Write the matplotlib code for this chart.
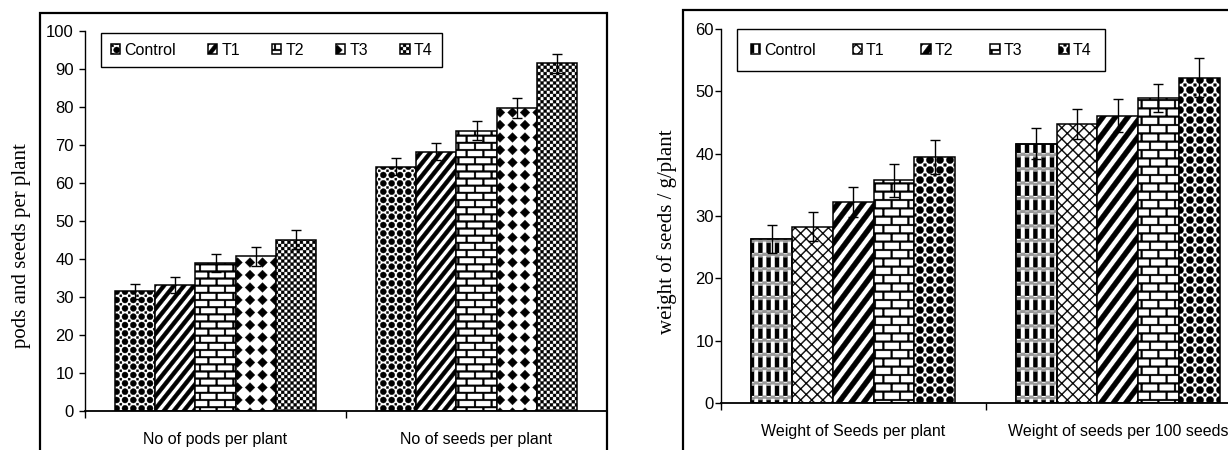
import numpy as np
import matplotlib
matplotlib.use("Agg")
import matplotlib.pyplot as plt
from matplotlib.path import Path
from matplotlib.patches import Rectangle
from matplotlib import font_manager

# ---------------- data ----------------
treatments = ["Control", "T1", "T2", "T3", "T4"]

left_categories = ["No of pods per plant", "No of seeds per plant"]
pods_means = [31.5, 33.2, 39.0, 40.7, 45.1]
pods_err = [2.0, 2.1, 2.4, 2.5, 2.5]
seeds_means = [64.3, 68.2, 73.7, 79.8, 91.5]
seeds_err = [2.2, 2.2, 2.5, 2.6, 2.5]

right_categories = ["Weight of Seeds per plant", "Weight of seeds per 100 seeds"]
wplant_means = [26.3, 28.3, 32.2, 35.7, 39.5]
wplant_err = [2.2, 2.3, 2.4, 2.6, 2.7]
w100_means = [41.6, 44.8, 46.1, 48.9, 52.2]
w100_err = [2.5, 2.4, 2.7, 2.2, 3.1]

left_ylabel = "pods and seeds per plant"
right_ylabel = "weight of seeds / g/plant"
left_yticks = list(range(0, 101, 10))
right_yticks = list(range(0, 61, 10))

# ---------------- custom hatch patterns ----------------
T = 100.0  # hatch tile in pixels (dpi = 100)
M, L, C = Path.MOVETO, Path.LINETO, Path.CLOSEPOLY


def _poly(pts):
    v = list(pts) + [pts[0]]
    c = [M] + [L] * (len(pts) - 1) + [C]
    return v, c


def _rect(x0, y0, x1, y1):
    return _poly([(x0, y0), (x1, y0), (x1, y1), (x0, y1)])


def _circle(cx, cy, r):
    uc = Path.unit_circle()
    return list(uc.vertices * r + [cx, cy]), list(uc.codes)


def _make(parts):
    verts, codes = [], []
    for v, c in parts:
        verts.extend(v)
        codes.extend(c)
    return Path(np.asarray(verts, float) / T, np.asarray(codes, Path.code_type))


def pat_balls(n, rfrac=0.36, sq=0.12):
    p = T / n
    parts = []
    for i in range(-1, n + 2):
        for j in range(-1, n + 2):
            parts.append(_circle(i * p, j * p, rfrac * p))
            cx, cy = (i + 0.5) * p, (j + 0.5) * p
            parts.append(_rect(cx - sq * p, cy - sq * p, cx + sq * p, cy + sq * p))
    return _make(parts)


def pat_stripes(n, shift, wfrac=0.5):
    p = T / n
    w = wfrac * p
    D = shift * T
    parts = []
    for k in range(-2 * n - 2, 2 * n + 3):
        x = k * p
        parts.append(_poly([(x, 0), (x + w, 0), (x + w + D, T), (x + D, T)]))
    return _make(parts)


def pat_bricks(rows, cols, t):
    h = T / rows
    W = T / cols
    parts = []
    for r in range(rows + 1):
        parts.append(_rect(-1, r * h - t / 2, T + 1, r * h + t / 2))
    for r in range(rows):
        off = (r % 2) * W / 2
        for c in range(-1, cols + 2):
            x = c * W + off
            parts.append(_rect(x - t / 2, r * h + t / 2, x + t / 2, (r + 1) * h - t / 2))
    return _make(parts)


def pat_diamonds(n, a):
    p = T / n
    parts = []
    for i in range(-1, n + 2):
        for j in range(-1, n + 2):
            cx, cy = i * p, j * p
            parts.append(_poly([(cx - a, cy), (cx, cy - a), (cx + a, cy), (cx, cy + a)]))
    return _make(parts)


def pat_checker(n):
    p = T / n
    s = p / 2
    parts = []
    for i in range(-1, n + 2):
        for j in range(-1, n + 2):
            x, y = i * p, j * p
            parts.append(_rect(x, y, x + s * 0.92, y + s * 0.92))
            parts.append(_rect(x + s, y + s, x + s + s * 0.92, y + s + s * 0.92))
    return _make(parts)


def pat_cross(n, t):
    p = T / n
    parts = []
    for k in range(-2 * n - 2, 2 * n + 3):
        x = k * p
        parts.append(_poly([(x, 0), (x + t, 0), (x + t + T, T), (x + T, T)]))
        parts.append(_poly([(x, 0), (x + t, 0), (x + t - T, T), (x - T, T)]))
    return _make(parts)


def pat_plaid_black(ncols, nrows, w, band):
    pc = T / ncols
    pr = T / nrows
    parts = []
    for r in range(-1, nrows + 1):
        for c in range(-1, ncols + 1):
            x = c * pc
            parts.append(_rect(x, r * pr + band, x + w, (r + 1) * pr))
    return _make(parts)


def pat_plaid_gray(nrows, band, ncols):
    pr = T / nrows
    pc = T / ncols
    parts = []
    for r in range(-1, nrows + 1):
        y0 = r * pr
        # checkered gray band
        for c in range(-1, 2 * ncols + 2):
            x = c * pc / 2
            yy = y0 if c % 2 == 0 else y0 + band / 2
            parts.append(_rect(x, yy, x + pc / 2, yy + band / 2))
        parts.append(_rect(-1, y0 + band * 0.35, T + 1, y0 + band * 0.65))
    return _make(parts)


CUSTOM_HATCH = {
    "O": pat_balls(12),
    "OO": pat_balls(10, rfrac=0.36, sq=0.13),
    "/": pat_stripes(10, 0.8),
    "//": pat_stripes(8, 0.75),
    "+": pat_bricks(14, 6, 1.7),
    "++": pat_bricks(12, 6, 1.7),
    "*": pat_diamonds(8, 4.8),
    ".": pat_checker(16),
    "x": pat_cross(9, 1.3),
    "|": pat_plaid_black(12, 7, 4.0, 4.2),
    "-": pat_plaid_gray(7, 4.2, 12),
}

_orig_hatch = Path.hatch


def _custom_hatch(hatchpattern, density=6):
    if hatchpattern in CUSTOM_HATCH:
        return CUSTOM_HATCH[hatchpattern]
    return _orig_hatch(hatchpattern, density)


Path.hatch = staticmethod(_custom_hatch)
import matplotlib.hatch as _mh
_mh.get_path = lambda hp, density=6: _custom_hatch(hp, density)

plt.rcParams["hatch.linewidth"] = 0.3

# ---------------- fonts ----------------
_names = {f.name for f in font_manager.fontManager.ttflist}
SANS = "Liberation Sans Narrow" if "Liberation Sans Narrow" in _names else "Liberation Sans"
SERIF = "Liberation Serif" if "Liberation Serif" in _names else "DejaVu Serif"
plt.rcParams["font.family"] = SANS

# ---------------- figure ----------------
W_PX, H_PX = 1228, 450
fig = plt.figure(figsize=(W_PX / 100, H_PX / 100), dpi=100)


def fx(px):
    return px / W_PX


def fy(py):
    return 1 - py / H_PX


def panel(ax_box, frame_box, cats, g1_means, g1_err, g2_means, g2_err,
          hatches, overlay, ymax, yticks, ylabel, ylabel_xy, legend_xy, legend_kw,
          ypad):
    x0, ytop, x1, ybot = ax_box
    ax = fig.add_axes([fx(x0), fy(ybot), fx(x1) - fx(x0), (ybot - ytop) / H_PX])
    fig.patches.append(Rectangle((fx(frame_box[0]), fy(frame_box[3])),
                                 fx(frame_box[2]) - fx(frame_box[0]),
                                 fy(frame_box[1]) - fy(frame_box[3]),
                                 transform=fig.transFigure, fill=False,
                                 edgecolor="black", linewidth=1.6, zorder=0))
    xg = np.arange(len(cats))
    bw = 0.154
    handles = []
    for i, tr in enumerate(treatments):
        xs = xg + (i - 2) * bw
        vals = [g1_means[i], g2_means[i]]
        errs = [g1_err[i], g2_err[i]]
        b = ax.bar(xs, vals, width=bw, facecolor="white", edgecolor="black",
                   linewidth=1.1, hatch=hatches[i], label=tr, zorder=2)
        handles.append(b)
        if overlay.get(i):
            ax.bar(xs, vals, width=bw, facecolor="none", edgecolor="#9a9a9a",
                   linewidth=0, hatch=overlay[i], zorder=2.1)
            ax.bar(xs, vals, width=bw, facecolor="none", edgecolor="black",
                   linewidth=1.1, zorder=2.2)
        ax.errorbar(xs, vals, yerr=errs, fmt="none", ecolor="black",
                    elinewidth=1.0, capsize=3.5, capthick=1.0, zorder=5)
    ax.set_xlim(-0.5, 1.5)
    ax.set_ylim(0, ymax)
    ax.set_yticks(yticks)
    ax.set_xticks(xg)
    ax.set_xticklabels(cats, fontsize=11.5)
    ax.set_xticks([-0.5, 0.5], minor=True)
    ax.tick_params(axis="x", which="major", length=0, pad=15)
    ax.tick_params(axis="x", which="minor", length=5, width=1.0, direction="out")
    ax.tick_params(axis="y", which="major", length=4, width=1.0, direction="out",
                   labelsize=12, pad=ypad)
    for s in ("top", "right"):
        ax.spines[s].set_visible(False)
    ax.spines["left"].set_linewidth(1.0)
    ax.spines["bottom"].set_linewidth(1.3)
    ax.patch.set_alpha(0)
    fig.text(fx(ylabel_xy[0]), fy(ylabel_xy[1]), ylabel, rotation=90,
             ha="center", va="center", family=SERIF, fontsize=15)
    leg = ax.legend(handles=handles, labels=treatments, loc="upper left",
                    bbox_to_anchor=(fx(legend_xy[0]), fy(legend_xy[1])),
                    bbox_transform=fig.transFigure, ncol=5, frameon=True,
                    fancybox=False, edgecolor="black", framealpha=1,
                    borderaxespad=0, handlelength=0.6, handleheight=0.6,
                    handletextpad=0.25, fontsize=11.5, **legend_kw)
    leg.get_frame().set_linewidth(1.0)
    return ax


panel(ax_box=(85, 31, 607, 411), frame_box=(40, 13, 607, 470),
      cats=left_categories, g1_means=pods_means, g1_err=pods_err,
      g2_means=seeds_means, g2_err=seeds_err,
      hatches=["O", "/", "+", "*", "."], overlay={},
      ymax=100, yticks=left_yticks, ylabel=left_ylabel,
      ylabel_xy=(22, 246), legend_xy=(101, 33),
      legend_kw=dict(columnspacing=2.0, borderpad=0.6), ypad=4)

panel(ax_box=(721, 29, 1250, 403), frame_box=(683, 10, 1260, 470),
      cats=right_categories, g1_means=wplant_means, g1_err=wplant_err,
      g2_means=w100_means, g2_err=w100_err,
      hatches=["|", "x", "//", "++", "OO"], overlay={0: "-"},
      ymax=60, yticks=right_yticks, ylabel=right_ylabel,
      ylabel_xy=(667, 232), legend_xy=(737, 29),
      legend_kw=dict(columnspacing=2.3, borderpad=0.85), ypad=1)

fig.savefig("out.png", dpi=100)
